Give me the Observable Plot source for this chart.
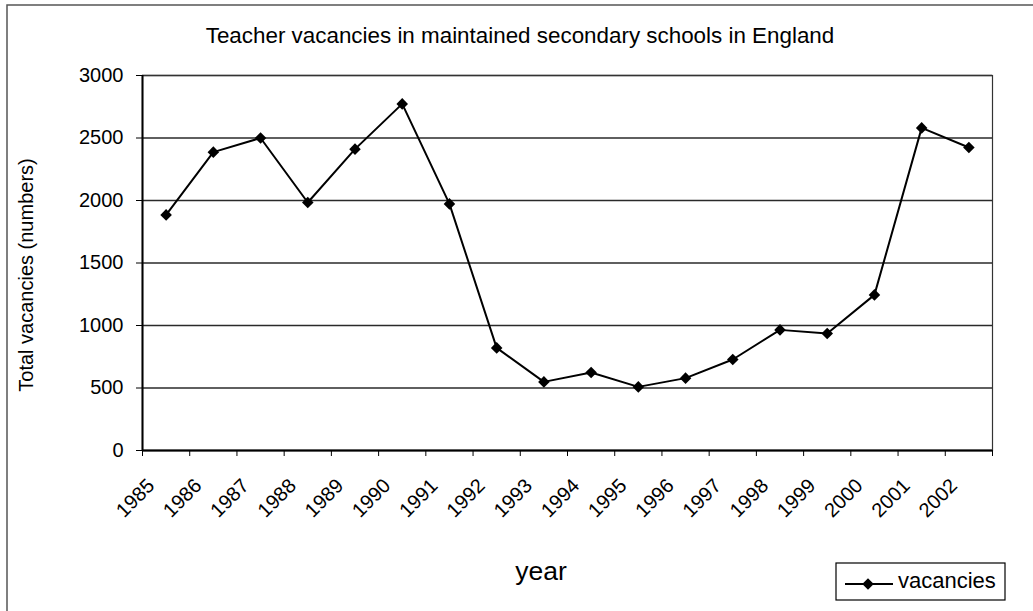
<!DOCTYPE html>
<html>
<head>
<meta charset="utf-8">
<script src="https://cdn.jsdelivr.net/npm/d3@7"></script>
<script src="https://cdn.jsdelivr.net/npm/@observablehq/plot@0.6"></script>
<style>
  html, body { margin: 0; padding: 0; background: #fff; }
  #chart svg { display: block; font-family: "Liberation Sans", Arial, sans-serif; }
</style>
</head>
<body>
<div id="chart"></div>
<script>
const years = [1985, 1986, 1987, 1988, 1989, 1990, 1991, 1992, 1993, 1994, 1995, 1996, 1997, 1998, 1999, 2000, 2001, 2002];
const vacancies = [1885, 2387, 2500, 1984, 2411, 2773, 1973, 821, 549, 624, 509, 579, 728, 965, 936, 1245, 2581, 2424];
const yTicks = [0, 500, 1000, 1500, 2000, 2500, 3000];
const titleText = "Teacher vacancies in maintained secondary schools in England";
const yLabelText = "Total vacancies (numbers)";
const xLabelText = "year";
const seriesName = "vacancies";

const data = years.map((year, i) => ({year, vacancies: vacancies[i]}));

const W = 1033, H = 611, mL = 142, mR = 41, mT = 75, mB = 161;
const bw = (W - mL - mR) / years.length;

const chart = Plot.plot({
  width: W, height: H,
  marginLeft: mL, marginRight: mR, marginTop: mT, marginBottom: mB,
  style: {fontFamily: '"Liberation Sans", Arial, sans-serif', fontSize: "20px", color: "#000", background: "#fff"},
  x: {type: "band", domain: years, padding: 0, round: false},
  y: {domain: [0, 3000]},
  marks: [
    Plot.gridY(yTicks, {stroke: "#2a2a2a", strokeOpacity: 1, strokeWidth: 1.4}),
    Plot.frame({stroke: "#333", strokeWidth: 1.2}),
    Plot.ruleY([0], {stroke: "#000", strokeWidth: 2}),
    Plot.ruleX([years[0]], {dx: -bw / 2, stroke: "#000", strokeWidth: 2}),
    Plot.axisY({ticks: yTicks, tickSize: 6, tickPadding: 13, fontSize: 20, label: null, tickFormat: d => String(d)}),
    Plot.axisX({tickSize: 6, fill: "none", label: null, dx: -bw / 2, tickFormat: d => String(d)}),
    Plot.axisX({ticks: [years[years.length - 1]], tickSize: 6, fill: "none", label: null, dx: bw / 2, tickFormat: d => String(d)}),
    Plot.text(years, {x: d => d, text: d => String(d), frameAnchor: "bottom", rotate: -45, textAnchor: "end", lineAnchor: "bottom", dx: -10.5, dy: 36.5, fontSize: 20, fill: "#000"}),
    Plot.line(data, {x: "year", y: "vacancies", stroke: "#000", strokeWidth: 2}),
    Plot.dot(data, {x: "year", y: "vacancies", symbol: "diamond2", r: 5.2, fill: "#000", stroke: "none"})
  ]
});

document.getElementById("chart").appendChild(chart);

const svg = d3.select(chart);
// outer chart-area border (left and top edges visible)
svg.append("path").attr("d", `M7,${H} V5 H${W}`).attr("fill", "none").attr("stroke", "#555").attr("stroke-width", 1.5);

svg.append("text").text(titleText)
  .attr("x", 520).attr("y", 43).attr("text-anchor", "middle")
  .attr("font-size", 22.4).attr("fill", "#000");

svg.append("text").text(yLabelText)
  .attr("transform", "translate(33,275) rotate(-90)").attr("text-anchor", "middle")
  .attr("font-size", 20).attr("fill", "#000");

svg.append("text").text(xLabelText)
  .attr("x", 541).attr("y", 580).attr("text-anchor", "middle")
  .attr("font-size", 26.5).attr("fill", "#000");

const lg = svg.append("g");
lg.append("rect").attr("x", 836).attr("y", 563).attr("width", 169).attr("height", 37)
  .attr("fill", "#fff").attr("stroke", "#000").attr("stroke-width", 1.2);
lg.append("line").attr("x1", 845).attr("x2", 893).attr("y1", 584).attr("y2", 584)
  .attr("stroke", "#000").attr("stroke-width", 2);
lg.append("path").attr("d", d3.symbol(d3.symbolDiamond2, Math.PI * 5.2 * 5.2)()).attr("transform", "translate(868,584)").attr("fill", "#000");
lg.append("text").text(seriesName).attr("x", 898).attr("y", 588).attr("text-anchor", "start")
  .attr("font-size", 22).attr("fill", "#000");
</script>
</body>
</html>
